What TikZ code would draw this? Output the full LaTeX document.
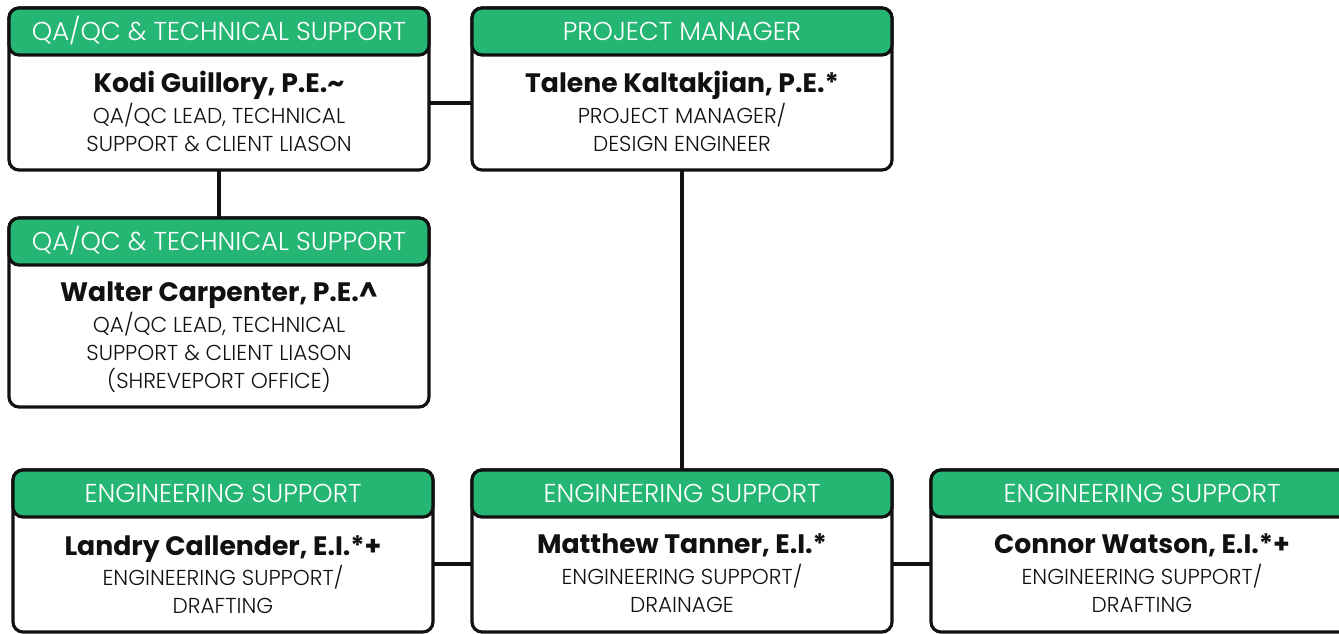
\documentclass[tikz,border=0pt]{standalone}
\usepackage{fontspec}
\setmainfont{Poppins}
\newfontfamily\poplight{Poppins Light}
\definecolor{hdrgreen}{RGB}{38,182,116}
\definecolor{ink}{RGB}{17,17,17}
\begin{document}
\begin{tikzpicture}[x=0.75pt,y=-0.75pt,
  bodybox/.style={draw=ink,line width=2.4pt,fill=white,rounded corners=7.5pt,
    minimum width=420*0.75pt,inner sep=0pt,outer sep=0pt},
  hdrbox/.style={draw=ink,line width=2.4pt,fill=hdrgreen,rounded corners=7.5pt,
    minimum width=420*0.75pt,minimum height=47*0.75pt,inner sep=0pt,outer sep=0pt},
  hdrtxt/.style={anchor=base,text=white,font=\poplight\fontsize{19.4}{21}\selectfont,inner sep=0pt},
  nametxt/.style={anchor=base,text=ink,font=\fontsize{20}{23}\selectfont\bfseries,inner sep=0pt},
  subtxt/.style={anchor=base,text=ink,font=\poplight\fontsize{16.2}{18}\selectfont,inner sep=0pt},
  conn/.style={draw=ink,line width=2.4pt}]
\clip (0,0) rectangle (1339,633);
% bodies
\node[bodybox,minimum height=162*0.75pt] (kodi) at (219,89) {};
\node[bodybox,minimum height=162*0.75pt] (talene) at (682,89) {};
\node[bodybox,minimum height=189*0.75pt] (walter) at (219,312.5) {};
\node[bodybox,minimum height=162*0.75pt] (landry) at (223,551) {};
\node[bodybox,minimum height=162*0.75pt] (matthew) at (682,551) {};
\node[bodybox,minimum height=162*0.75pt] (connor) at (1141,551) {};
% headers
\node[hdrbox,anchor=north] (kodiH) at (kodi.north) {};
\node[hdrbox,anchor=north] (taleneH) at (talene.north) {};
\node[hdrbox,anchor=north] (walterH) at (walter.north) {};
\node[hdrbox,anchor=north] (landryH) at (landry.north) {};
\node[hdrbox,anchor=north] (matthewH) at (matthew.north) {};
\node[hdrbox,anchor=north] (connorH) at (connor.north) {};
% connectors
\draw[conn] ([yshift=-14*0.75pt]kodi.east) -- ([yshift=-14*0.75pt]talene.west);
\draw[conn] (kodi.south) -- (walter.north);
\draw[conn] (talene.south) -- (matthew.north);
\draw[conn] ([yshift=-13*0.75pt]landry.east) -- ([yshift=-13*0.75pt]matthew.west);
\draw[conn] ([yshift=-13*0.75pt]matthew.east) -- ([yshift=-13*0.75pt]connor.west);
% texts box 1
\node[hdrtxt] (kodiT) at (219,40) {QA/QC \& TECHNICAL SUPPORT};
\node[nametxt] (kodiN) at (219,92) {Kodi Guillory, P.E.\textasciitilde};
\node[subtxt] (kodiS1) at (219,123) {QA/QC LEAD, TECHNICAL};
\node[subtxt] (kodiS2) at (219,151) {SUPPORT \& CLIENT LIASON};
% box 2
\node[hdrtxt] (taleneT) at (682,40) {PROJECT MANAGER};
\node[nametxt] (taleneN) at (682,92) {Talene Kaltakjian, P.E.*};
\node[subtxt] (taleneS1) at (682,123) {PROJECT MANAGER/};
\node[subtxt] (taleneS2) at (682,151) {DESIGN ENGINEER};
% box 3
\node[hdrtxt] (walterT) at (219,250) {QA/QC \& TECHNICAL SUPPORT};
\node[nametxt] (walterN) at (219,301) {Walter Carpenter, P.E.\textasciicircum};
\node[subtxt] (walterS1) at (219,332) {QA/QC LEAD, TECHNICAL};
\node[subtxt] (walterS2) at (219,360) {SUPPORT \& CLIENT LIASON};
\node[subtxt] (walterS3) at (219,388) {(SHREVEPORT OFFICE)};
% box 4
\node[hdrtxt] (landryT) at (223,502) {ENGINEERING SUPPORT};
\node[nametxt] (landryN) at (223,555) {Landry Callender, E.I.*+};
\node[subtxt] (landryS1) at (223,585) {ENGINEERING SUPPORT/};
\node[subtxt] (landryS2) at (223,613) {DRAFTING};
% box 5
\node[hdrtxt] (matthewT) at (682,502) {ENGINEERING SUPPORT};
\node[nametxt] (matthewN) at (682,553) {Matthew Tanner, E.I.*};
\node[subtxt] (matthewS1) at (682,584) {ENGINEERING SUPPORT/};
\node[subtxt] (matthewS2) at (682,612) {DRAINAGE};
% box 6
\node[hdrtxt] (connorT) at (1142,502) {ENGINEERING SUPPORT};
\node[nametxt] (connorN) at (1142,553) {Connor Watson, E.I.*+};
\node[subtxt] (connorS1) at (1142,584) {ENGINEERING SUPPORT/};
\node[subtxt] (connorS2) at (1142,612) {DRAFTING};
\end{tikzpicture}
\end{document}
